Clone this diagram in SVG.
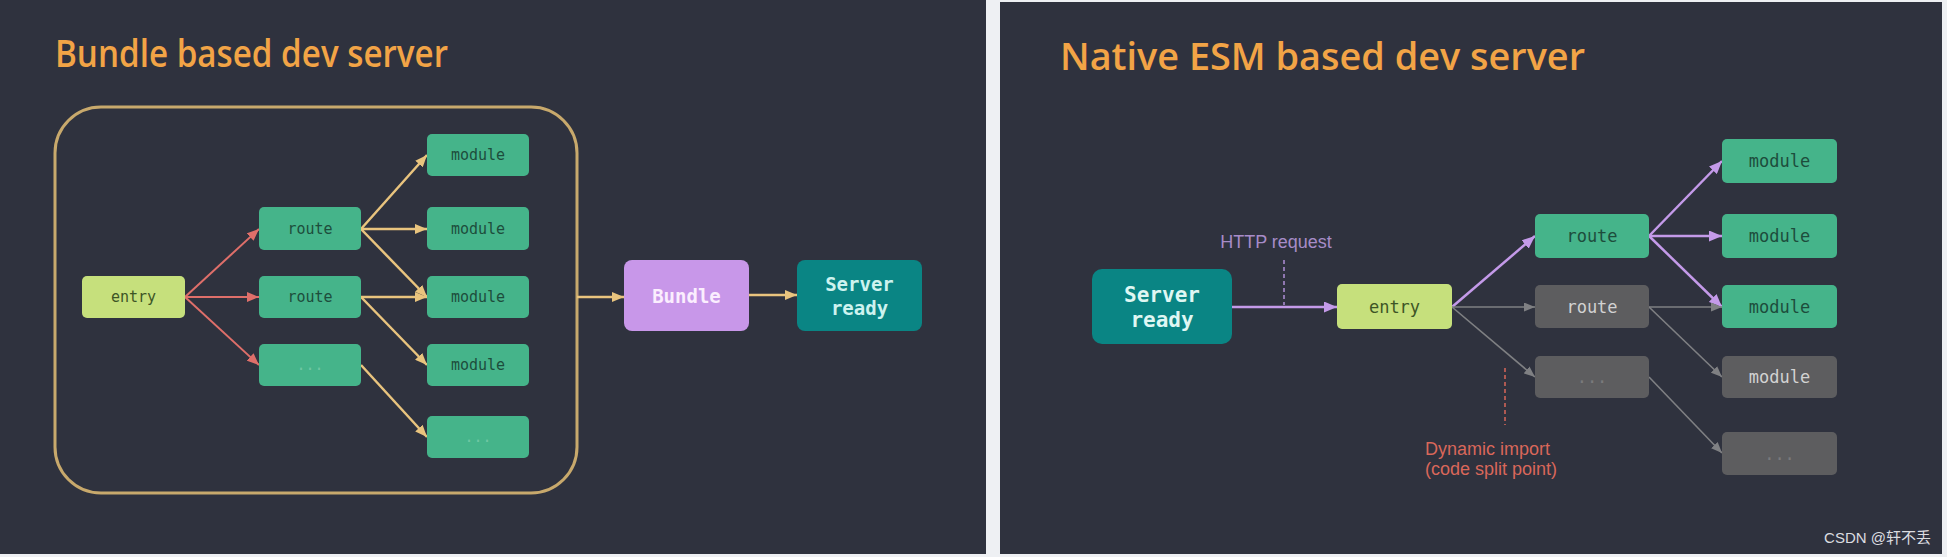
<svg xmlns="http://www.w3.org/2000/svg" width="1947" height="557" viewBox="0 0 1947 557">
<style>
.panel{fill:#2f323e}
.title{font-family:"Open Sans","Lato","Liberation Sans",sans-serif;font-weight:600;font-size:37px;fill:#f2a446}
.mono{font-family:"DejaVu Sans Mono","Liberation Mono",monospace;text-anchor:middle;dominant-baseline:central}
.green{fill:#45b48a}
.entry{fill:#c6e07c}
.gray{fill:#5d5d5f}
.gtxt{fill:#1d4d3c}
.etxt{fill:#3d5526}
.red{stroke:#df6f6a;stroke-width:2;fill:none}
.yel{stroke:#e9c47e;stroke-width:2.5;fill:none}
.pur{stroke:#c49ae9;stroke-width:2.5;fill:none}
.gry{stroke:#7f8083;stroke-width:1.6;fill:none}
.lbl{font-family:"Liberation Sans","Inter",sans-serif;font-size:18px}
</style>
<defs>
<marker id="ar" markerUnits="userSpaceOnUse" markerWidth="12" markerHeight="10" refX="12" refY="5" orient="auto"><path d="M0,0 L12,5 L0,10 z" fill="#df6f6a"/></marker>
<marker id="ay" markerUnits="userSpaceOnUse" markerWidth="12" markerHeight="10" refX="12" refY="5" orient="auto"><path d="M0,0 L12,5 L0,10 z" fill="#e9c47e"/></marker>
<marker id="ap" markerUnits="userSpaceOnUse" markerWidth="13" markerHeight="11" refX="13" refY="5.5" orient="auto"><path d="M0,0 L13,5.5 L0,11 z" fill="#c49ae9"/></marker>
<marker id="ag" markerUnits="userSpaceOnUse" markerWidth="11" markerHeight="9" refX="11" refY="4.5" orient="auto"><path d="M0,0 L11,4.5 L0,9 z" fill="#7f8083"/></marker>
</defs>
<rect x="0" y="0" width="1947" height="557" fill="#eef0f3"/>
<rect class="panel" x="0" y="0" width="986" height="554"/>
<rect class="panel" x="1000" y="2" width="942" height="552"/>

<text class="title" x="55" y="67" textLength="393" lengthAdjust="spacingAndGlyphs">Bundle based dev server</text>
<text class="title" x="1060" y="70" textLength="525" lengthAdjust="spacingAndGlyphs">Native ESM based dev server</text>

<g id="container"><rect x="55" y="107" width="522" height="386" rx="46" fill="none" stroke="#c8a96c" stroke-width="3"/></g>

<g id="connectors">
<line class="red" x1="185" y1="297" x2="259" y2="229" marker-end="url(#ar)"/>
<line class="red" x1="185" y1="297" x2="259" y2="297" marker-end="url(#ar)"/>
<line class="red" x1="185" y1="297" x2="259" y2="365" marker-end="url(#ar)"/>
<line class="yel" x1="361" y1="229" x2="427" y2="155" marker-end="url(#ay)"/>
<line class="yel" x1="361" y1="229" x2="427" y2="229" marker-end="url(#ay)"/>
<line class="yel" x1="361" y1="229" x2="427" y2="297" marker-end="url(#ay)"/>
<line class="yel" x1="361" y1="297" x2="427" y2="297" marker-end="url(#ay)"/>
<line class="yel" x1="361" y1="297" x2="427" y2="365" marker-end="url(#ay)"/>
<line class="yel" x1="361" y1="365" x2="427" y2="437" marker-end="url(#ay)"/>
<line class="yel" x1="577" y1="297" x2="624" y2="297" marker-end="url(#ay)"/>
<line class="yel" x1="749" y1="295" x2="797" y2="295" marker-end="url(#ay)"/>

<line class="pur" x1="1232" y1="307" x2="1337" y2="307" marker-end="url(#ap)"/>
<line x1="1284" y1="260" x2="1284" y2="305" stroke="#b08ed6" stroke-width="1.5" stroke-dasharray="4 3"/>
<line class="pur" x1="1452" y1="307" x2="1535" y2="236" marker-end="url(#ap)"/>
<line class="gry" x1="1452" y1="307" x2="1535" y2="307" marker-end="url(#ag)"/>
<line class="gry" x1="1452" y1="307" x2="1535" y2="377" marker-end="url(#ag)"/>
<line class="pur" x1="1649" y1="236" x2="1722" y2="161" marker-end="url(#ap)"/>
<line class="pur" x1="1649" y1="236" x2="1722" y2="236" marker-end="url(#ap)"/>
<line class="pur" x1="1649" y1="236" x2="1722" y2="307" marker-end="url(#ap)"/>
<line class="gry" x1="1649" y1="307" x2="1722" y2="307" marker-end="url(#ag)"/>
<line class="gry" x1="1649" y1="307" x2="1722" y2="377" marker-end="url(#ag)"/>
<line class="gry" x1="1649" y1="377" x2="1722" y2="453" marker-end="url(#ag)"/>
<line x1="1505" y1="368" x2="1505" y2="425" stroke="#d9675a" stroke-width="1.5" stroke-dasharray="4 3"/>
</g>

<g id="l-entry"><rect class="entry" x="82" y="276" width="103" height="42" rx="5"/><text class="mono etxt" x="133.5" y="297" font-size="15">entry</text></g>
<g id="l-route1"><rect class="green" x="259" y="207" width="102" height="43" rx="5"/><text class="mono gtxt" x="310" y="228.5" font-size="15">route</text></g>
<g id="l-route2"><rect class="green" x="259" y="276" width="102" height="42" rx="5"/><text class="mono gtxt" x="310" y="297" font-size="15">route</text></g>
<g id="l-route3"><rect class="green" x="259" y="344" width="102" height="42" rx="5"/><text class="mono" x="310" y="365" font-size="15" fill="#6fc7a3">...</text></g>
<g id="l-module1"><rect class="green" x="427" y="134" width="102" height="42" rx="5"/><text class="mono gtxt" x="478" y="155" font-size="15">module</text></g>
<g id="l-module2"><rect class="green" x="427" y="207" width="102" height="43" rx="5"/><text class="mono gtxt" x="478" y="228.5" font-size="15">module</text></g>
<g id="l-module3"><rect class="green" x="427" y="276" width="102" height="42" rx="5"/><text class="mono gtxt" x="478" y="297" font-size="15">module</text></g>
<g id="l-module4"><rect class="green" x="427" y="344" width="102" height="42" rx="5"/><text class="mono gtxt" x="478" y="365" font-size="15">module</text></g>
<g id="l-module5"><rect class="green" x="427" y="416" width="102" height="42" rx="5"/><text class="mono" x="478" y="437" font-size="15" fill="#6fc7a3">...</text></g>
<g id="l-bundle"><rect x="624" y="260" width="125" height="71" rx="8" fill="#c897e9"/><text class="mono" x="686.5" y="295.5" font-size="19" font-weight="bold" fill="#fbeefe">Bundle</text></g>
<g id="l-server"><rect x="797" y="260" width="125" height="71" rx="8" fill="#0a8584"/><text class="mono" x="859.5" y="284" font-size="19" font-weight="bold" fill="#cdf3ef">Server</text><text class="mono" x="859.5" y="308" font-size="19" font-weight="bold" fill="#cdf3ef">ready</text></g>

<g id="r-server"><rect x="1092" y="269" width="140" height="75" rx="10" fill="#0a8584"/><text class="mono" x="1162" y="295" font-size="21" font-weight="bold" fill="#dff7f3">Server</text><text class="mono" x="1162" y="320" font-size="21" font-weight="bold" fill="#dff7f3">ready</text></g>
<g id="r-http"><text class="lbl" x="1276" y="248" text-anchor="middle" fill="#a78cc8">HTTP request</text></g>
<g id="r-entry"><rect class="entry" x="1337" y="284" width="115" height="45" rx="5"/><text class="mono etxt" x="1394.5" y="306.5" font-size="17">entry</text></g>
<g id="r-route1"><rect class="green" x="1535" y="214" width="114" height="44" rx="5"/><text class="mono gtxt" x="1592" y="236" font-size="17">route</text></g>
<g id="r-route2"><rect class="gray" x="1535" y="285" width="114" height="43" rx="5"/><text class="mono" x="1592" y="306.5" font-size="17" fill="#d2d2d2">route</text></g>
<g id="r-route3"><rect class="gray" x="1535" y="356" width="114" height="42" rx="5"/><text class="mono" x="1592" y="377" font-size="17" fill="#7a7a7c">...</text></g>
<g id="r-module1"><rect class="green" x="1722" y="139" width="115" height="44" rx="5"/><text class="mono gtxt" x="1779.5" y="161" font-size="17">module</text></g>
<g id="r-module2"><rect class="green" x="1722" y="214" width="115" height="44" rx="5"/><text class="mono gtxt" x="1779.5" y="236" font-size="17">module</text></g>
<g id="r-module3"><rect class="green" x="1722" y="285" width="115" height="43" rx="5"/><text class="mono gtxt" x="1779.5" y="306.5" font-size="17">module</text></g>
<g id="r-module4"><rect class="gray" x="1722" y="356" width="115" height="42" rx="5"/><text class="mono" x="1779.5" y="377" font-size="17" fill="#d2d2d2">module</text></g>
<g id="r-module5"><rect class="gray" x="1722" y="432" width="115" height="43" rx="5"/><text class="mono" x="1779.5" y="453.5" font-size="17" fill="#7a7a7c">...</text></g>
<g id="r-dynamic"><text class="lbl" x="1425" y="455" fill="#d9675a">Dynamic import</text><text class="lbl" x="1425" y="475" fill="#d9675a">(code split point)</text></g>
<text x="1931" y="543" text-anchor="end" font-family="'Liberation Sans','Noto Sans CJK SC',sans-serif" font-size="15" fill="#dcdde0">CSDN @轩不丢</text>
</svg>
